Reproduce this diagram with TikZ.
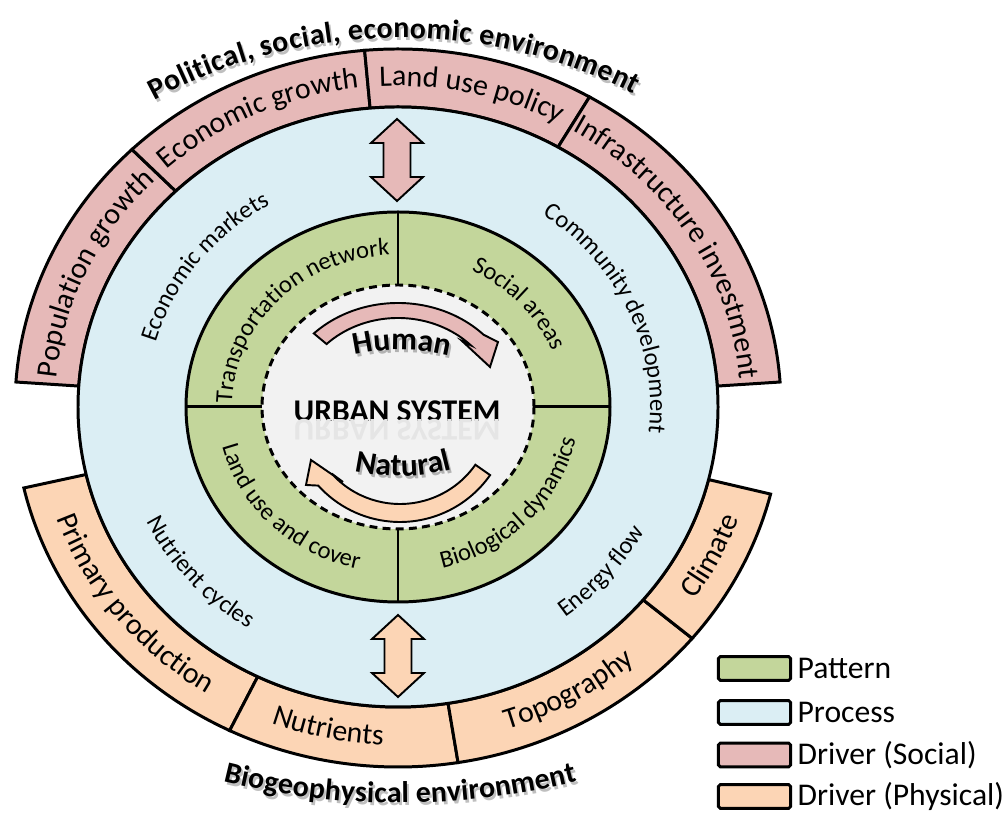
\documentclass[tikz,border=0pt]{standalone}
\usepackage{fontspec}
\setmainfont{Carlito}
\usepackage{graphicx}
\usetikzlibrary{positioning,decorations.text}

\definecolor{patterngreen}{HTML}{C3D69B}
\definecolor{processblue}{HTML}{DBEEF4}
\definecolor{socialpink}{HTML}{E6B9B8}
\definecolor{physpeach}{HTML}{FCD5B5}
\definecolor{corefill}{HTML}{F2F2F2}

\newcommand\bandfont{\fontsize{17}{20}\selectfont}
\newcommand\ringfont{\fontsize{14}{17}\selectfont}
\newcommand\titlefont{\fontsize{17}{20}\selectfont\bfseries}
\newcommand\cyclefont{\fontsize{18}{21}\selectfont\bfseries}
\newcommand\urbanfont{\fontsize{18}{21}\selectfont\bfseries}
\newcommand\legendfont{\fontsize{18}{21}\selectfont}

\begin{document}
\begin{tikzpicture}
  [x=0.02cm,y=0.02cm,
   ring/.style={draw=black,line width=1.7pt},
   blockarrow/.style={draw=black,line width=1.1pt},
   ringtext/.style={decorate,decoration={text along path,text={|\ringfont|#1},text align=center}},
   bandtext/.style={decorate,decoration={text along path,text={|\bandfont|#1},text align=center}},
   cycletext/.style={decorate,decoration={text along path,text={|\cyclefont|#1},text align=center}},
   cycleshadow/.style={decorate,decoration={text along path,text={|\cyclefont|#1},text align=center,text color=black!30}},
   titletext/.style={decorate,decoration={text along path,text={|\titlefont|#1},text align=fit to path}},
   titleshadow/.style={decorate,decoration={text along path,text={|\titlefont|#1},text align=fit to path,text color=black!25}},
   legbox/.style={draw=black,line width=1.7pt,rounded corners=1pt,minimum width=41pt,minimum height=13.5pt,inner sep=0pt},
   legtext/.style={font=\legendfont,inner sep=0pt}]
  \useasboundingbox (0,0) rectangle (1007,817);

  \begin{scope}[shift={(398,410)}]
  % drivers
  \foreach \a/\b in {176/134,134/95,95/60,60/4}
    \draw[ring,fill=socialpink] (\a:320 and 300) arc[start angle=\a,end angle=\b,x radius=320,y radius=300]
      -- (\b:383 and 358) arc[start angle=\b,end angle=\a,x radius=383,y radius=358] -- cycle;
  \foreach \a/\b in {193/244,244/279,279/320,320/346}
    \draw[ring,fill=physpeach] (\a:320 and 300) arc[start angle=\a,end angle=\b,x radius=320,y radius=300]
      -- (\b:384 and 360) arc[start angle=\b,end angle=\a,x radius=384,y radius=360] -- cycle;

  % process, pattern, core
  \draw[ring,fill=processblue] (0,0) ellipse [x radius=320,y radius=300];
  \draw[ring,fill=patterngreen] (0,0) ellipse [x radius=212,y radius=195];
  \draw[ring,dash pattern=on 4.5pt off 3pt,fill=corefill] (0,0) ellipse [x radius=136,y radius=122];
  \foreach \a in {0,90,180,270}
    \draw[ring] (\a:136 and 122) -- (\a:212 and 195);

  % exchange arrows
  \foreach \ax/\ayt/\ayb/\col in {-1/288/206/socialpink,0/-208/-290/physpeach}
    \draw[blockarrow,fill=\col] (\ax,\ayt) -- ++(26,-24) -- ++(-12.5,0) -- (\ax+13.5,\ayb+24) -- ++(12.5,0)
      -- (\ax,\ayb) -- ++(-26,24) -- ++(12.5,0) -- (\ax-13.5,\ayt-24) -- ++(-12.5,0) -- cycle;

  % human and natural cycle
  \draw[blockarrow,fill=socialpink] (135:119 and 104) arc[start angle=135,end angle=44,x radius=119,y radius=104]
    -- (100,65) -- (92,40) -- (64,66) -- (44:101 and 89) arc[start angle=44,end angle=135,x radius=101,y radius=89] -- cycle;
  \draw[blockarrow,fill=physpeach,shift={(2,-5)}] (325:110) arc[start angle=325,end angle=222,radius=110]
    -- (-94,-73) -- (-89,-48) -- (-57,-70) -- (222:92) arc[start angle=222,end angle=325,radius=92] -- cycle;

  \node[font=\urbanfont] (core) at (-1,-4) {URBAN SYSTEM};
  \node[text=black!10] (coremirror) at (-1,-23) {\scalebox{1}[-1]{\urbanfont URBAN SYSTEM}};

  \path[cycleshadow={Human},shift={(4,-151)}] (106:205) arc[start angle=106,end angle=73,radius=205];
  \path[cycletext={Human},shift={(2,-148)}] (106:205) arc[start angle=106,end angle=73,radius=205];
  \path[cycleshadow={Natural},shift={(4,131)}] (253:203) arc[start angle=253,end angle=289,radius=203];
  \path[cycletext={Natural},shift={(2,134)}] (253:203) arc[start angle=253,end angle=289,radius=203];

  % pattern labels
  \path[ringtext={Transportation network}] (184:166 and 152) arc[start angle=184,end angle=88,x radius=166,y radius=152];
  \path[ringtext={Social areas}] (80:166 and 152) arc[start angle=80,end angle=4,x radius=166,y radius=152];
  \path[ringtext={Land use and cover}] (178:181 and 166) arc[start angle=178,end angle=272,x radius=181,y radius=166];
  \path[ringtext={Biological dynamics}] (272:181 and 166) arc[start angle=272,end angle=362,x radius=181,y radius=166];

  % process labels
  \path[ringtext={Economic markets}] (188:252 and 235) arc[start angle=188,end angle=98,x radius=252,y radius=235];
  \path[ringtext={Community development}] (69:252 and 235) arc[start angle=69,end angle=-21,x radius=252,y radius=235];
  \path[ringtext={Nutrient cycles}] (176:280 and 262) arc[start angle=176,end angle=266,x radius=280,y radius=262];
  \path[ringtext={Energy flow}] (275:280 and 262) arc[start angle=275,end angle=365,x radius=280,y radius=262];

  % driver labels
  \path[bandtext={Population growth}] (178:343 and 321) arc[start angle=178,end angle=132,x radius=343,y radius=321];
  \path[bandtext={Economic growth}] (136:343 and 321) arc[start angle=136,end angle=93,x radius=343,y radius=321];
  \path[bandtext={Land use policy}] (97:343 and 321) arc[start angle=97,end angle=58,x radius=343,y radius=321];
  \path[bandtext={Infrastructure investment}] (64:343 and 321) arc[start angle=64,end angle=0,x radius=343,y radius=321];
  \path[bandtext={Primary production}] (193:361 and 338) arc[start angle=193,end angle=244,x radius=361,y radius=338];
  \path[bandtext={Nutrients}] (241:361 and 338) arc[start angle=241,end angle=276,x radius=361,y radius=338];
  \path[bandtext={Topography}] (279:361 and 338) arc[start angle=279,end angle=320,x radius=361,y radius=338];
  \path[bandtext={Climate}] (320:361 and 338) arc[start angle=320,end angle=346,x radius=361,y radius=338];

  % environments
  \path[titleshadow={Political, social, economic environment},shift={(4,-149)}] (118.5:515) arc[start angle=118.5,end angle=63,radius=515];
  \path[titletext={Political, social, economic environment},shift={(2,-146)}] (118.5:515) arc[start angle=118.5,end angle=63,radius=515];
  \path[titleshadow={Biogeophysical environment},shift={(4,332)}] (256:731) arc[start angle=256,end angle=284,radius=731];
  \path[titletext={Biogeophysical environment},shift={(2,335)}] (256:731) arc[start angle=256,end angle=284,radius=731];
  \end{scope}

  % legend
  \foreach \col/\txt/\ky [count=\i] in {patterngreen/Pattern/148.5,processblue/Process/104.5,socialpink/Driver (Social)/62,physpeach/Driver (Physical)/20.5}
  {
    \node[legbox,fill=\col] (key\i) at (754.5,\ky) {};
    \node[legtext,right=3pt of key\i] (keylabel\i) {\txt};
  }
\end{tikzpicture}
\end{document}
